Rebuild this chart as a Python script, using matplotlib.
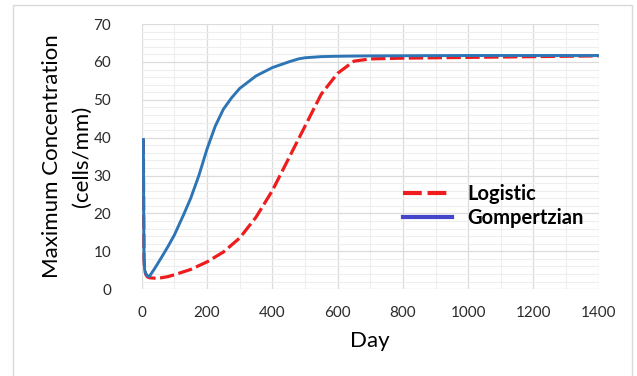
import matplotlib
matplotlib.use("Agg")
import matplotlib.pyplot as plt
from matplotlib.lines import Line2D
from matplotlib.patches import Rectangle
from matplotlib.ticker import MultipleLocator

plt.rcParams["font.family"] = ["Lato", "DejaVu Sans"]

# sampled model curves (day -> maximum concentration, cells/mm)
gomp_days = [5, 6, 7, 9, 13, 18, 23, 40, 60, 80, 100, 130, 150, 175, 200, 225, 250,
             275, 300, 350, 400, 450, 480, 500, 550, 600, 700, 1000, 1400]
gomp_conc = [39.5, 20, 8, 5, 4, 3.5, 3.3, 5.5, 8.3, 11.2, 14.3, 20, 24, 30, 37, 43, 47.5,
             50.5, 53, 56.3, 58.5, 60, 60.8, 61.1, 61.4, 61.5, 61.6, 61.7, 61.7]

logi_days = [5, 6, 7, 9, 13, 18, 25, 40, 60, 80, 100, 150, 200, 250, 300, 350, 400,
             450, 500, 550, 600, 650, 700, 800, 1000, 1200, 1400]
logi_conc = [39.5, 20, 8, 5, 3.8, 3.2, 3.0, 2.9, 3.0, 3.3, 3.8, 5.2, 7.2, 9.8, 13.5, 19, 26,
             34.5, 43, 51.5, 57, 60.2, 60.8, 61.0, 61.2, 61.4, 61.6]

BLUE = "#2E75B6"
RED = "#EE1C1C"

fig = plt.figure(figsize=(6.37, 3.76), dpi=100)
ax = fig.add_axes([0.2225, 0.231, 0.7175, 0.705])

ax.plot(logi_days, logi_conc, color=RED, lw=2.3, dashes=(4.5, 1.4), zorder=3)
ax.plot(gomp_days, gomp_conc, color=BLUE, lw=2.1, zorder=4)

ax.set_xlim(0, 1400)
ax.set_ylim(0, 70)
ax.xaxis.set_major_locator(MultipleLocator(200))
ax.xaxis.set_minor_locator(MultipleLocator(100))
ax.yaxis.set_major_locator(MultipleLocator(10))
ax.yaxis.set_minor_locator(MultipleLocator(2))
ax.grid(which="major", color="#DCDCDC", lw=0.9)
ax.grid(which="minor", color="#EEEEEE", lw=0.8)
ax.set_axisbelow(True)
for s in ax.spines.values():
    s.set_visible(False)
ax.tick_params(which="both", length=0, labelsize=11, colors="#2B2B2B")
ax.tick_params(axis="y", pad=22)
ax.tick_params(axis="x", pad=12)

ax.set_xlabel("Day", fontsize=16, labelpad=8)
ax.set_ylabel("Maximum Concentration\n(cells/mm)", fontsize=16, linespacing=1.6)
ax.yaxis.set_label_coords(-0.11, 0.5)

handles = [Line2D([], [], color=RED, lw=3, dashes=(4.5, 1.4)),
           Line2D([], [], color="#4545CC", lw=3)]
ax.legend(handles, ["Logistic", "Gompertzian"], frameon=False,
          prop={"size": 14.5, "weight": "bold"}, handlelength=2.45,
          handletextpad=0.75, labelspacing=0.2,
          loc="upper left", bbox_to_anchor=(0.531, 0.465))

# light frame around the whole chart
fig.patches.append(Rectangle((13 / 637, -0.01), 619 / 637, 1 - 5 / 376 + 0.01,
                             transform=fig.transFigure, fill=False,
                             edgecolor="#D9D9D9", lw=1.0))

fig.savefig("out.png", dpi=100)
